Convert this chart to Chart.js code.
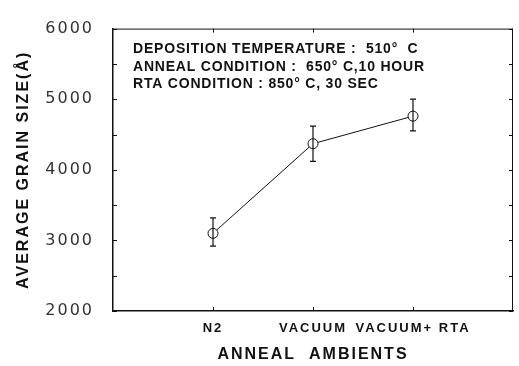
<!DOCTYPE html>
<html>
<head>
<meta charset="utf-8">
<script src="https://cdn.jsdelivr.net/npm/chart.js@4"></script>
<style>
  html, body { margin: 0; padding: 0; background: #fff; }
  #wrap { width: 519px; height: 366px; }
</style>
</head>
<body>
<div id="wrap"><canvas id="grainChart"></canvas></div>
<script>
// valeurs
const ambients = ['N2', 'VACUUM', 'VACUUM+ RTA'];
const ambientPos = [1, 2, 3];
const grainSize = [3100, 4370, 4760];
const errLow = [2920, 4120, 4550];
const errHigh = [3320, 4620, 5000];
const yTicks = [2000, 3000, 4000, 5000, 6000];
const minorTicks = [2500, 3500, 4500, 5500];
const notes = [
    'DEPOSITION TEMPERATURE :  510°  C',
    'ANNEAL CONDITION :  650° C,10 HOUR',
    'RTA CONDITION : 850° C, 30 SEC'
];

const sansBold = "'Liberation Sans', Arial, sans-serif";

// espacement des lettres pour les axes (texte large comme l'original)
const spacingPlugin = {
    id: 'spacing',
    beforeDraw(chart) { chart.ctx.letterSpacing = '2px'; },
    beforeDatasetsDraw(chart) { chart.ctx.letterSpacing = '0px'; }
};

// cadre, petites graduations internes
const framePlugin = {
    id: 'frame',
    beforeDatasetsDraw(chart) {
        const { ctx, chartArea: a, scales: { x, y } } = chart;
        ctx.save();
        ctx.strokeStyle = '#111';
        ctx.lineWidth = 1;
        ctx.beginPath();
        ctx.moveTo(a.left, a.top + 0.5);
        ctx.lineTo(a.right, a.top + 0.5);
        ctx.moveTo(a.right - 0.5, a.top);
        ctx.lineTo(a.right - 0.5, a.bottom);
        yTicks.concat(minorTicks).forEach(v => {
            const py = Math.round(y.getPixelForValue(v)) + 0.5;
            ctx.moveTo(a.left, py);
            ctx.lineTo(a.left + 4, py);
            ctx.moveTo(a.right, py);
            ctx.lineTo(a.right - 4, py);
        });
        ambientPos.forEach(v => {
            const px = Math.round(x.getPixelForValue(v)) + 0.5;
            ctx.moveTo(px, a.bottom);
            ctx.lineTo(px, a.bottom - 4);
            ctx.moveTo(px, a.top);
            ctx.lineTo(px, a.top + 4);
        });
        ctx.stroke();
        ctx.restore();
    }
};

// barres d'erreur + texte des conditions
const errorPlugin = {
    id: 'errorBars',
    afterDatasetsDraw(chart) {
        const { ctx, chartArea: a, scales: { x, y } } = chart;
        ctx.save();
        ctx.strokeStyle = '#111';
        ctx.lineWidth = 1.2;
        ctx.beginPath();
        ambientPos.forEach((v, i) => {
            const px = x.getPixelForValue(v);
            const top = y.getPixelForValue(errHigh[i]);
            const bot = y.getPixelForValue(errLow[i]);
            ctx.moveTo(px, top);
            ctx.lineTo(px, bot);
            ctx.moveTo(px - 3, top);
            ctx.lineTo(px + 3, top);
            ctx.moveTo(px - 3, bot);
            ctx.lineTo(px + 3, bot);
        });
        ctx.stroke();

        ctx.letterSpacing = '0.8px';
        ctx.fillStyle = '#111';
        ctx.font = 'bold 14px ' + sansBold;
        ctx.textBaseline = 'middle';
        ctx.textAlign = 'left';
        notes.forEach((t, i) => {
            ctx.fillText(t, a.left + 20, a.top + 21 + i * 17.5);
        });
        ctx.restore();
    }
};

const ctx = document.getElementById('grainChart');
new Chart(ctx, {
    type: 'line',
    data: {
        datasets: [{
            data: ambientPos.map((p, i) => ({ x: p, y: grainSize[i] })),
            borderColor: '#111',
            borderWidth: 1,
            tension: 0,
            pointRadius: 5,
            pointBackgroundColor: '#fff',
            pointBorderColor: '#111',
            pointBorderWidth: 1
        }]
    },
    options: {
        responsive: true,
        maintainAspectRatio: false,
        animation: false,
        layout: { padding: { top: 16, right: 1, left: 0, bottom: 0 } },
        plugins: {
            legend: { display: false },
            tooltip: { enabled: false }
        },
        scales: {
            x: {
                type: 'linear',
                min: 0,
                max: 4,
                afterBuildTicks: s => { s.ticks = ambientPos.map(v => ({ value: v })); },
                afterFit: s => { s.height = 55; },
                grid: { display: false, drawTicks: false },
                border: { display: true, color: '#111', width: 1.5 },
                ticks: {
                    padding: 10,
                    color: '#111',
                    font: { family: sansBold, size: 13, weight: 'bold' },
                    callback: v => ambients[ambientPos.indexOf(v)] || ''
                },
                title: {
                    display: true,
                    text: 'ANNEAL  AMBIENTS',
                    color: '#111',
                    font: { family: sansBold, size: 16, weight: 'bold' },
                    padding: { top: 0, bottom: 2 }
                }
            },
            y: {
                min: 2000,
                max: 6000,
                afterBuildTicks: s => { s.ticks = yTicks.map(v => ({ value: v })); },
                afterFit: s => { s.width = 113; },
                grid: { display: false, drawTicks: false },
                border: { display: true, color: '#111', width: 1.5 },
                ticks: {
                    padding: 19,
                    color: '#333',
                    font: { family: "'DejaVu Sans', sans-serif", size: 16 },
                    callback: v => String(v)
                },
                title: {
                    display: true,
                    text: 'AVERAGE GRAIN SIZE(Å)',
                    color: '#111',
                    font: { family: sansBold, size: 16, weight: 'bold' },
                    padding: { top: 14, bottom: 0 }
                }
            }
        }
    },
    plugins: [spacingPlugin, framePlugin, errorPlugin]
});
</script>
</body>
</html>
